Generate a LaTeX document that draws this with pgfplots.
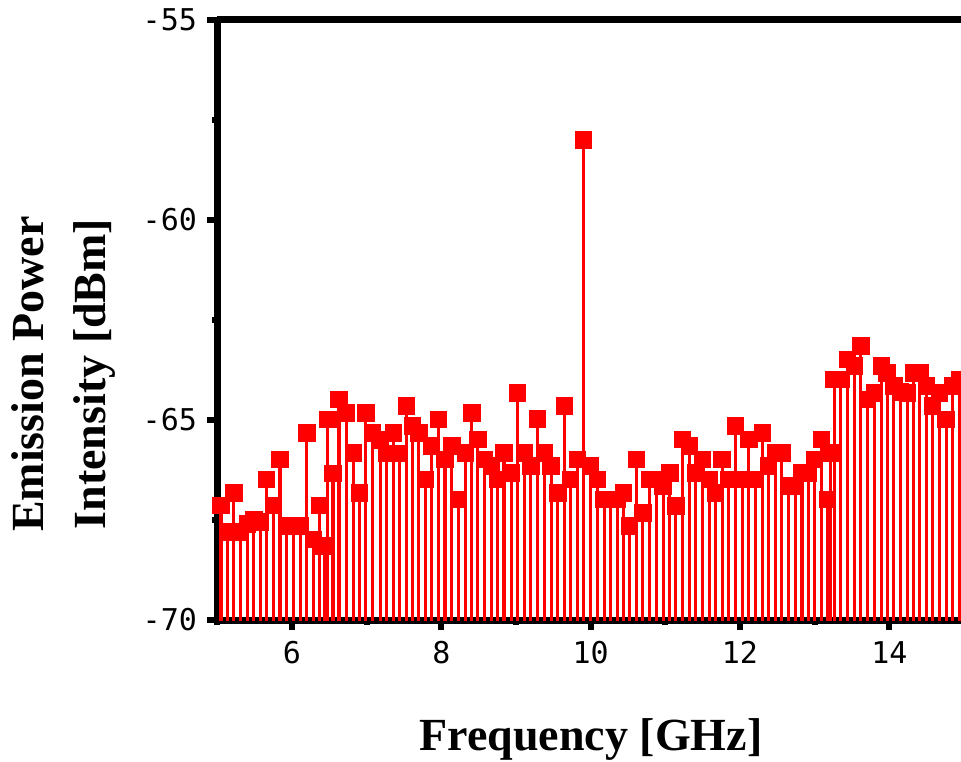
\documentclass[border=0pt]{standalone}
\usepackage{fontspec}
\setmainfont{Liberation Serif}
\newfontfamily\monofont{DejaVu Sans Mono}
\usepackage{pgfplots}
\pgfplotsset{compat=1.18}
\usetikzlibrary{calc}
\pgfplotstableread{
x y
5.05 -67.14
5.14 -67.80
5.22 -66.82
5.31 -67.80
5.40 -67.60
5.49 -67.48
5.58 -67.55
5.66 -66.48
5.75 -67.14
5.84 -65.98
5.93 -67.65
6.02 -67.65
6.11 -67.65
6.20 -65.32
6.29 -67.98
6.37 -67.14
6.43 -68.15
6.48 -64.98
6.55 -66.33
6.63 -64.48
6.73 -64.82
6.82 -65.82
6.90 -66.82
6.99 -64.82
7.08 -65.32
7.18 -65.50
7.27 -65.83
7.36 -65.32
7.44 -65.83
7.53 -64.65
7.61 -65.15
7.70 -65.32
7.79 -66.48
7.87 -65.65
7.96 -64.98
8.05 -65.98
8.14 -65.65
8.23 -66.98
8.32 -65.82
8.41 -64.82
8.49 -65.48
8.58 -65.98
8.67 -66.15
8.75 -66.48
8.84 -65.82
8.94 -66.32
9.02 -64.32
9.11 -65.82
9.20 -66.15
9.29 -64.97
9.38 -65.82
9.47 -66.15
9.56 -66.82
9.65 -64.65
9.73 -66.48
9.82 -65.98
9.90 -58.00
10.00 -66.15
10.09 -66.48
10.18 -66.98
10.27 -66.98
10.36 -66.98
10.44 -66.82
10.52 -67.65
10.61 -65.98
10.70 -67.32
10.79 -66.48
10.88 -66.48
10.97 -66.65
11.06 -66.32
11.14 -67.15
11.23 -65.48
11.32 -65.65
11.41 -66.32
11.50 -65.98
11.59 -66.48
11.67 -66.82
11.76 -65.98
11.85 -66.48
11.94 -65.15
12.03 -66.48
12.12 -65.48
12.21 -66.48
12.30 -65.32
12.38 -66.15
12.48 -65.82
12.56 -65.82
12.65 -66.65
12.74 -66.65
12.83 -66.32
12.92 -66.32
13.00 -65.98
13.09 -65.48
13.17 -66.98
13.21 -65.82
13.26 -63.98
13.35 -63.98
13.44 -63.48
13.53 -63.65
13.62 -63.15
13.71 -64.48
13.80 -64.32
13.89 -63.65
13.97 -63.82
14.06 -64.15
14.15 -64.30
14.24 -64.32
14.32 -63.82
14.41 -63.82
14.50 -64.15
14.58 -64.65
14.67 -64.32
14.76 -64.98
14.85 -64.15
14.94 -63.98
}\spectrum
\begin{document}
\begin{tikzpicture}
\begin{axis}[
  scale only axis,
  width=371.85pt, height=300pt,
  xmin=5, xmax=14.96,
  ymin=-70, ymax=-55,
  axis x line*=box,
  axis y line*=left,
  y axis line style={-},
  axis line style={line width=3.5pt, black},
  xtick={6,8,10,12,14},
  minor xtick={5,7,9,11,13},
  ytick={-70,-65,-60,-55},
  minor ytick={-67.5,-62.5,-57.5},
  xtick pos=bottom,
  ytick pos=left,
  tick align=outside,
  major tick length=5pt,
  minor tick length=2.5pt,
  every tick/.style={line width=3pt, black},
  /pgf/number format/assume math mode=true,
  tick label style={font=\monofont\fontsize{15}{15}\selectfont, inner sep=0pt},
  yticklabel style={anchor=east, xshift=-5pt},
  xticklabel style={anchor=north, yshift=-5.5pt},
]
\addplot[only marks, mark=square*, mark size=4.1pt, color=red,
  mark options={draw=red, fill=red, line width=0.4pt},
  error bars/.cd, y dir=minus, y fixed=20, error mark=none,
  error bar style={line width=1.55pt, red}]
  table[x=x, y=y] {\spectrum};
\end{axis}
\node[rotate=90, align=center, font=\bfseries\fontsize{23}{31}\selectfont]
  at ($(current axis.south west)+(-76.65pt,123pt)$) {Emission Power\\Intensity [dBm]};
\node[anchor=base, font=\bfseries\fontsize{23}{23}\selectfont]
  at ($(current axis.south west)+(186.85pt,-65pt)$) {Frequency [GHz]};
\pgfresetboundingbox
\path[use as bounding box] ($(current axis.south west)+(-108.65pt,-70.5pt)$)
  rectangle ($(current axis.north east)+(0pt,10pt)$);
\end{tikzpicture}
\end{document}
